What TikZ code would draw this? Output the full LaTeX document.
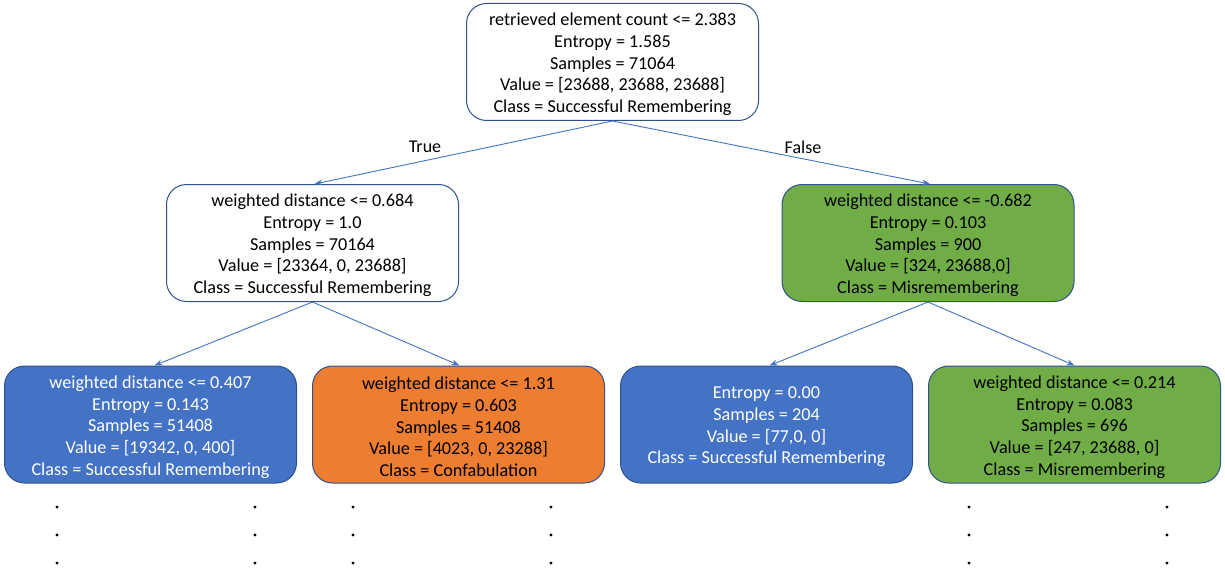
\documentclass[tikz,border=0pt]{standalone}
\usepackage{fontspec}
\setmainfont{Carlito}
\usetikzlibrary{arrows.meta}
\definecolor{edgeblue}{HTML}{4472C4}
\definecolor{boxline}{HTML}{2F528F}
\definecolor{fillblue}{HTML}{4472C4}
\definecolor{fillorange}{HTML}{ED7D31}
\definecolor{fillgreen}{HTML}{70AD47}
\tikzset{
  treenode/.style={draw=boxline, line width=1pt, rounded corners=20pt,
    minimum width=292pt, minimum height=117pt, inner sep=0pt},
  whitenode/.style={treenode, fill=white},
  bluenode/.style={treenode, fill=fillblue},
  orangenode/.style={treenode, fill=fillorange},
  greennode/.style={treenode, fill=fillgreen},
  boxtext/.style={align=center, inner sep=0pt, yshift=-2.5pt,
    font=\fontsize{18.2}{21.7}\selectfont, text=black},
  lighttext/.style={boxtext, text=white},
  branch/.style={draw=edgeblue, line width=0.9pt, -{Stealth[length=8pt,width=6pt]}},
  branchlabel/.style={font=\fontsize{18}{20}\selectfont},
  moredot/.style={circle, fill=black, inner sep=0pt, minimum size=3.2pt}
}
\begin{document}
\begin{tikzpicture}[x=1pt, y=-1pt]
\useasboundingbox (0,0) rectangle (1225,575);

% root split
\node[whitenode, label={[boxtext]center:{retrieved element count <= 2.383\\Entropy = 1.585\\Samples = 71064\\Value = [23688, 23688, 23688]\\Class = Successful Remembering}}] (root) at (612.5,62) {};

% second level
\node[whitenode, label={[boxtext]center:{weighted distance <= 0.684\\Entropy = 1.0\\Samples = 70164\\Value = [23364, 0, 23688]\\Class = Successful Remembering}}] (l) at (312.5,243) {};
\node[greennode, label={[boxtext]center:{weighted distance <= -0.682\\Entropy = 0.103\\Samples = 900\\Value = [324, 23688,0]\\Class = Misremembering}}] (r) at (928,243) {};

% third level
\node[bluenode, label={[lighttext]center:{weighted distance <= 0.407\\Entropy = 0.143\\Samples = 51408\\Value = [19342, 0, 400]\\Class = Successful Remembering}}] (ll) at (150.5,424.5) {};
\node[orangenode, label={[boxtext]center:{weighted distance <= 1.31\\Entropy = 0.603\\Samples = 51408\\Value = [4023, 0, 23288]\\Class = Confabulation}}] (lr) at (458.5,424.5) {};
\node[bluenode, label={[lighttext]center:{Entropy = 0.00\\Samples = 204\\Value = [77,0, 0]\\Class = Successful Remembering}}] (rl) at (766.5,424.5) {};
\node[greennode, label={[boxtext]center:{weighted distance <= 0.214\\Entropy = 0.083\\Samples = 696\\Value = [247, 23688, 0]\\Class = Misremembering}}] (rr) at (1074.5,424.5) {};

% branches
\draw[branch] (root.south) -- ([xshift=2pt]l.north);
\draw[branch] (root.south) -- ([xshift=2pt]r.north);
\draw[branch] (l.south) -- ([xshift=4pt]ll.north);
\draw[branch] (l.south) -- ([xshift=1pt]lr.north);
\draw[branch] (r.south) -- ([xshift=3pt]rl.north);
\draw[branch] (r.south) -- (rr.north);

\node[branchlabel] (truelab) at (425,147) {True};
\node[branchlabel] (falselab) at (803,147) {False};

% continuation marks below the unexpanded splits
\foreach \c [count=\i] in {57,255,353,551,969,1167} {
  \foreach \r [count=\j] in {507,535,563} {
    \node[moredot] (dot\i\j) at (\c,\r) {};
  }
}
\end{tikzpicture}
\end{document}
